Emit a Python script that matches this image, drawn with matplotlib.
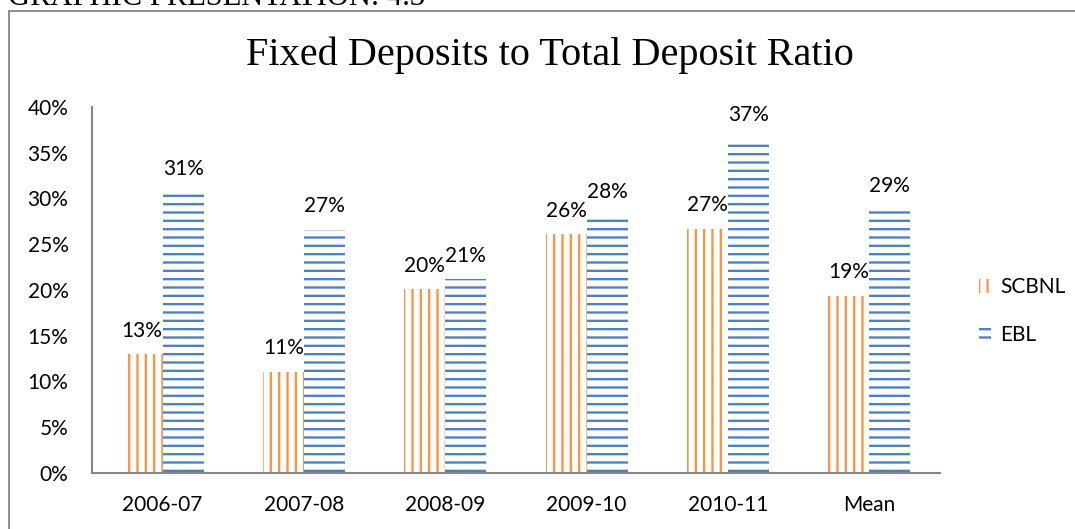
import numpy as np
import matplotlib.pyplot as plt
from matplotlib.patches import Rectangle
from matplotlib.ticker import PercentFormatter

# Ratio de depositos fijos sobre depositos totales
periodos = ['2006-07', '2007-08', '2008-09', '2009-10', '2010-11', 'Mean']
scbnl = [0.1293, 0.1103, 0.2004, 0.2606, 0.2664, 0.1934]
ebl = [0.3066, 0.2655, 0.2114, 0.2806, 0.3655, 0.2879]
etiquetas_scbnl = ['13%', '11%', '20%', '26%', '27%', '19%']
etiquetas_ebl = ['31%', '27%', '21%', '28%', '37%', '29%']

naranja = '#F79646'
azul = '#4F81BD'
gris = '#868686'

plt.rcParams['hatch.linewidth'] = 1.7
plt.rcParams['font.family'] = ['Lato', 'DejaVu Sans']

W, H = 1075, 529
fig = plt.figure(figsize=(W / 100, H / 100), dpi=100)

# Marco exterior y encabezado recortado
fig.add_artist(Rectangle((9 / W, -0.2), 1.5, 1.2 - 11 / H, transform=fig.transFigure,
                         fill=False, edgecolor=gris, linewidth=1.3))
fig.text(8 / W, 1 - 5 / H, 'GRAPHIC PRESENTATION: 4.3', va='baseline', ha='left',
         fontsize=22, family='Liberation Serif')

ax = fig.add_axes([92 / W, 1 - 472.7 / H, (940 - 92) / W, (472.7 - 107) / H])

x = np.arange(len(periodos))
ancho = 0.29
barras1 = ax.bar(x - ancho / 2, scbnl, ancho, facecolor='none', edgecolor=naranja,
                 linewidth=0, hatch='||', label='SCBNL')
barras2 = ax.bar(x + ancho / 2, ebl, ancho, facecolor='none', edgecolor=azul,
                 linewidth=0, hatch='--', label='EBL')

ax.bar_label(barras1, labels=etiquetas_scbnl, padding=10, fontsize=15)
ax.bar_label(barras2, labels=etiquetas_ebl, padding=10, fontsize=15)

ax.set_xlim(-0.5, len(periodos) - 0.5)
ax.set_ylim(0, 0.40)
ax.set_yticks(np.arange(0, 0.401, 0.05))
ax.yaxis.set_major_formatter(PercentFormatter(1.0, decimals=0))
ax.set_xticks(x)
ax.set_xticklabels(periodos)
ax.tick_params(axis='y', length=0, pad=17, labelsize=15)
ax.tick_params(axis='x', length=0, pad=16, labelsize=15)

for lado in ['top', 'right']:
    ax.spines[lado].set_visible(False)
for lado in ['left', 'bottom']:
    ax.spines[lado].set_color(gris)
    ax.spines[lado].set_linewidth(1.5)

fig.text(550 / W, 1 - 55 / H, 'Fixed Deposits to Total Deposit Ratio', ha='center', va='center',
         fontsize=29, family='Liberation Serif')

fig.legend(loc='center left', bbox_to_anchor=(960 / W, 1 - 311 / H), frameon=False,
           fontsize=15, handlelength=0.6, handleheight=0.6, handletextpad=0.45,
           labelspacing=1.3)

fig.savefig('out.png', dpi=100)
